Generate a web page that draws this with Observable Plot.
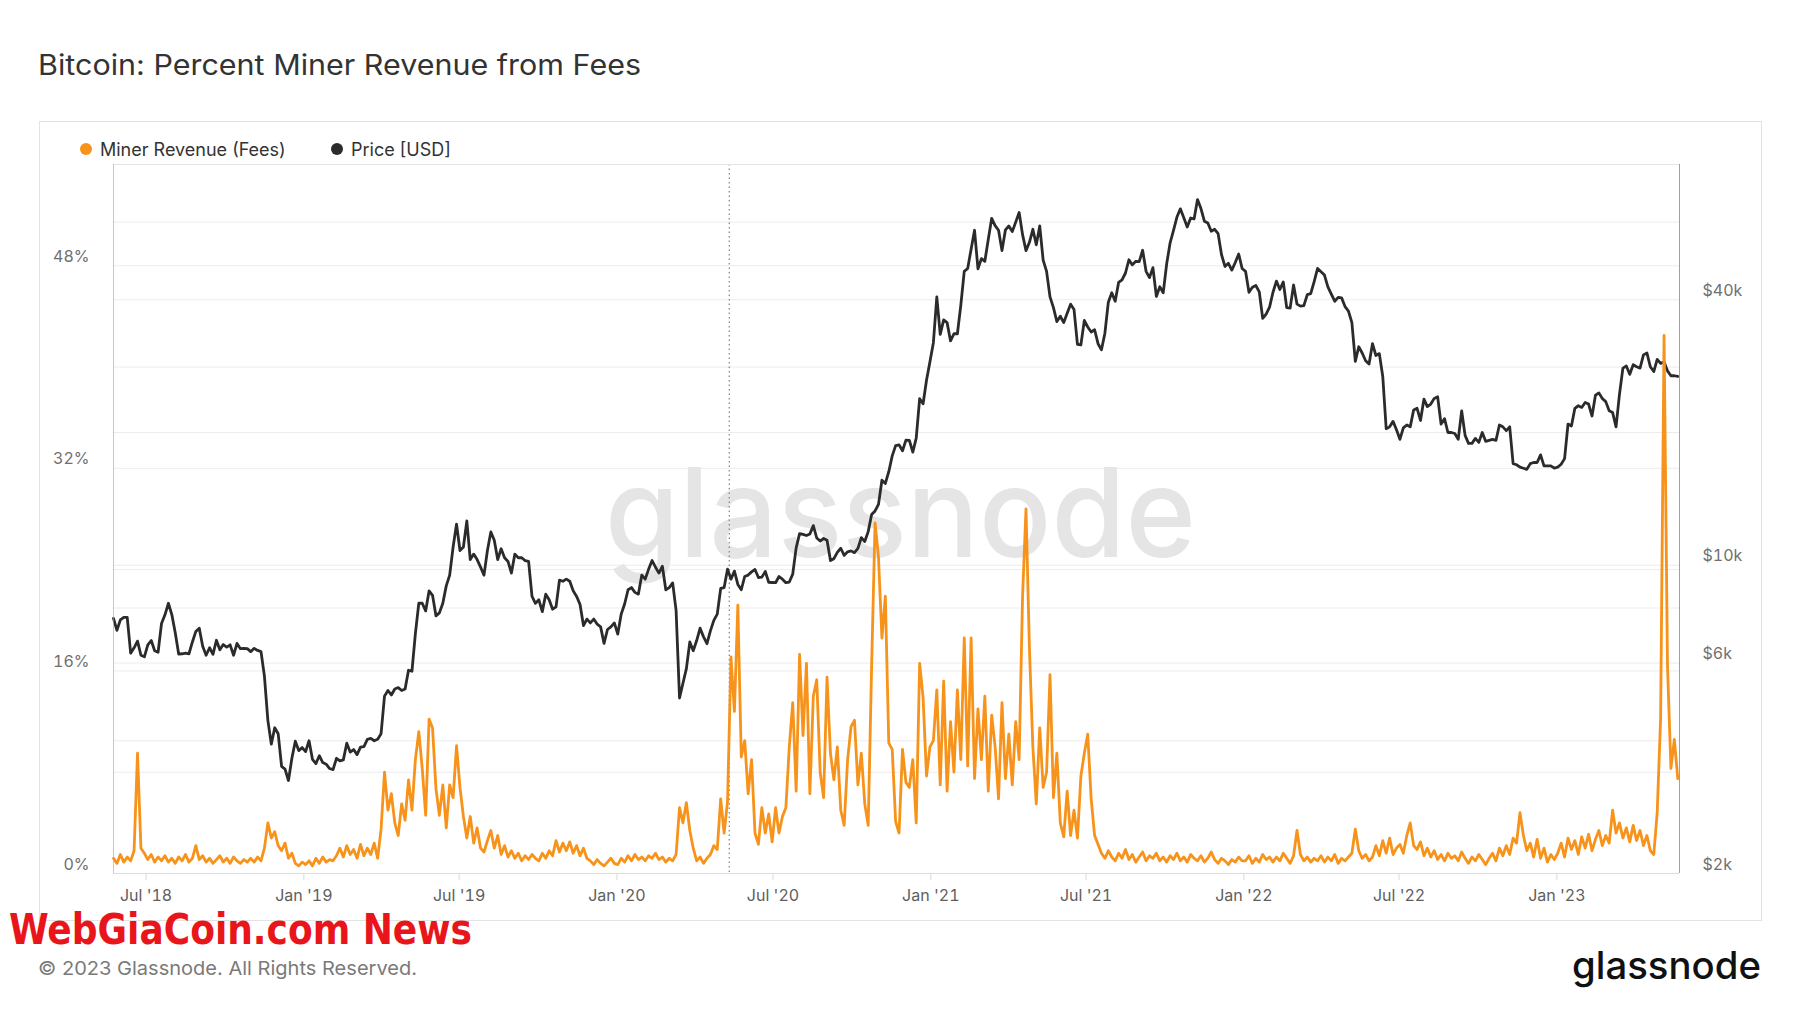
<!DOCTYPE html>
<html><head><meta charset="utf-8">
<script src="https://cdn.jsdelivr.net/npm/d3@7"></script>
<script src="https://cdn.jsdelivr.net/npm/@observablehq/plot@0.6"></script>
<style>
html,body{margin:0;padding:0;background:#fff;}
#page{position:relative;width:1800px;height:1013px;overflow:hidden;background:#fff;font-family:Inter,"Noto Sans",sans-serif;}
#overlay{position:absolute;left:0;top:0;}
#chart{position:absolute;left:39px;top:121px;}
</style></head>
<body><div id="page"><svg id="overlay" width="1800" height="1013"></svg><div id="chart"></div></div>
<script>
// ---- texts ----
const titleText = "Bitcoin: Percent Miner Revenue from Fees";
const seriesNames = ["Miner Revenue (Fees)", "Price [USD]"];
const footerText = "© 2023 Glassnode. All Rights Reserved.";
const logoText = "glassnode";
const stampText = "WebGiaCoin.com News";

// ---- axes ----
const xDomain = [new Date("2018-05-24"), new Date("2023-05-24")];
const xTicks = ["2018-07-01","2019-01-01","2019-07-01","2020-01-01","2020-07-01","2021-01-01","2021-07-01","2022-01-01","2022-07-01","2023-01-01"];
const feeTicks = [0, 16, 32, 48];
const feeGrid = [8, 16, 24, 32, 40, 48];
const priceTicks = [2000, 6000, 10000, 40000];
const priceGrid = [4000, 6000, 8000, 10000, 20000, 40000, 60000];
const halvingDate = ["2020-05-11"];

// ---- data: one value every 4 days from each start date ----
const start2018 = "2018-05-24";
const price2018 = [7580,7120, 7520,7620,7620,6320,6500,6730,6250,6200, 6600,6750,6400,6350,7380,7720,8200,7730, 7030,6290,6300,6320,6300,6700,7080, 7200,6550,6250,6500,6280,6760,6430,6610, 6520,6600,6250,6650,6470,6480,6470,6370, 6480,6410,6370,5600,4450,3930,4280, 4150,3500,3450,3250,3650,3990,3800,3860];
const fee2018 = [1.2,0.8, 1.5,0.9,1.3,1.0,1.8,9.5,2.0,1.6, 1.1,1.5,0.9,1.3,1.0,1.4,0.9,1.2, 0.8,1.3,1.0,1.5,0.9,1.2,2.2, 1.1,1.4,0.9,1.2,0.8,1.1,1.4,0.9, 1.2,0.8,1.3,1.0,0.8,1.1,0.9,1.2, 0.9,1.3,1.0,2.0,4.0,2.8,3.3, 2.2,1.8,2.4,1.2,1.6,0.8,0.6,0.9];

const start2019 = "2019-01-03";
const price2019 = [3780,4000,3630,3550,3700,3570,3540,3460, 3440,3650,3600,3620,3950,3770,3820, 3720,3870,3880,4030,4050,4000,4030, 4150,5050,5200,5080,5240,5280,5200,5240, 5780,5750,7000,8200,8200,7880,8750,8550, 7680,7800,8200,8980,9500,11000,12400, 10800,11000,12600,10300,10600,10300,9900,9500, 10800,11900,11400,10300,10900,10400,10200,9600, 10600,10400,10400,10250,10200,8500,8200, 8350,7850,8600,8350,7950,8050,9250,9200, 9300,9200,8750,8500,8150,7300,7550, 7400,7550,7350,7250,6650,7150,7250,7400];
const fee2019 = [0.7,1.0,0.6,1.2,0.8,1.3,0.9,1.1, 1.0,1.4,2.0,1.3,2.2,1.5,1.9, 1.2,2.3,1.4,2.0,1.5,2.4,1.2, 3.5,8.0,5.0,6.3,4.0,3.0,5.5,4.2, 7.4,5.0,9.0,11.2,8.3,4.6,12.2,11.5, 6.7,4.6,7.0,3.6,7.0,6.0,10.1, 6.8,4.5,2.8,4.5,2.4,3.6,2.0,1.7, 2.6,3.4,2.0,3.0,1.5,2.2,1.3,1.8, 1.2,1.6,1.0,1.4,1.1,1.5,1.2, 1.0,1.6,1.2,1.8,1.4,2.6,1.7,2.4, 1.8,2.5,1.6,2.2,1.4,2.0,1.2, 1.0,0.7,1.1,0.8,0.6,0.9,1.2,0.8];

const start2020 = "2020-01-02";
const price2020 = [6980,7750,8170,8800,8900,8680,8600,9500, 9300,9800,10250,9900,9600,9950,8800, 8900,9120,7900,5000,5400,5830,6700,6400, 6750,7200,6880,6640,7100,7500,7750, 8860,8900,9800,9300,9700,9050,8800,9430, 9500,9660,9780,9380,9400,9680,9150,9140, 9130,9430,9300,9130,9160,9550,10950, 11800,11750,11680,11770,12300,11530,11350,11500, 11400,10250,10350,10700,10930,10530,10730,10780, 10680,10920,11550,11320,11920,13030,13280, 13740,15590,15330,16300,17700,18680,18750,18180, 19220,19190,18060,19420,23860,23240,26270,28950];
const fee2020 = [0.7,1.2,0.9,1.4,1.0,1.5,1.1,1.3, 1.0,1.4,1.2,1.6,1.1,1.3,0.9, 1.2,1.0,1.5,5.2,4.0,5.6,3.4,2.0, 1.0,1.3,0.8,1.2,1.5,2.2,1.9, 5.9,3.2,5.7,17.1,12.8,21.2,9.2,10.5, 6.3,9.0,3.2,2.3,5.2,3.2,4.7,2.5, 5.2,3.2,4.5,5.2,10.0,13.5,6.5, 17.3,10.9,16.6,6.3,14.0,15.3,8.0,6.0, 15.5,9.5,7.4,10.0,5.0,3.8,9.0,11.6, 12.1,7.0,9.5,5.5,3.8,16.4,27.7, 25.0,18.6,21.9,10.3,9.8,4.1,3.2,9.8, 7.2,6.8,9.0,4.0,16.6,13.9,7.7,10.0];

const start2021 = "2021-01-04";
const price2021 = [31970,40580,33400,36000,35500,32260,33500, 33500,38900,46400,47100,52100,57500,47000, 49600,48900,54800,61200,58900,57500,51700,57600, 58800,57100,60000,63100,56200,51700,54000,57800, 53300,58800,49200,46400,40600,38400,35700, 36700,35500,37300,39100,38000,31700,31600,35900, 34700,33800,34200,31800,30800,33600,39500,41500, 39700,43800,44400,46000,49300,48000,48900, 48800,51800,46400,44900,47300,40700,42800,41500, 48200,53800,57500,61600,64300,61400,58500,61300, 61000,67500,64400,60300,59700,57200,57800, 56500,50600,47600,48400,46700,48600,50800,47100];
const fee2021 = [10.5,14.5,7.0,15.2,6.5,12.0,8.0, 14.5,9.0,18.6,8.5,18.6,7.5,13.0, 9.0,14.0,6.5,12.5,10.0,5.9,13.5,7.5, 11.0,7.0,12.0,9.0,21.9,28.8,17.8,10.0, 5.5,11.5,6.8,8.0,15.7,6.0,9.5, 4.0,2.9,6.5,3.0,5.0,2.8,7.7,9.5, 11.0,5.9,3.0,2.3,1.6,1.2,1.8,1.3, 1.0,1.6,1.2,1.9,1.1,1.5,0.9, 1.3,1.7,1.0,1.4,1.2,1.6,1.0,1.3, 0.9,1.4,1.1,1.6,1.0,1.3,0.9,1.5, 1.2,1.0,1.4,0.9,1.2,1.7,1.1, 0.8,1.2,1.0,0.7,1.1,0.9,1.3,1.0];

const start2022 = "2022-01-03";
const price2022 = [46400,41600,42700,43100,41700,36300,37100,38500, 41600,44100,42200,43900,38400,38300,43200, 39100,38700,38800,41100,41300,44000,47100, 46300,45500,42800,41200,39700,40500,40400,38600, 37700,35500,29000,31300,30300,29100,28600,31800, 29900,30200,26800,20400,20600,21200,20300, 19300,20500,20800,20600,22500,22700,21300,23800, 22900,23200,23900,24100,20900,21500,20000,20000, 19900,19300,22400,19700,18900,18900,19400, 19000,20000,19100,19200,19300,19200,20800,20600, 20200,20600,17000,16900,16700,16600,16500, 17000,17100,17100,17800,16800,16800,16800,16600];
const fee2022 = [1.0,1.4,0.8,1.2,0.9,1.5,1.1,1.3, 0.9,1.3,1.0,1.6,1.2,0.8,1.4, 3.4,1.5,1.0,1.3,0.9,1.2,1.0, 1.4,0.9,1.3,1.0,1.5,0.8,1.2,1.0, 1.3,1.6,3.5,1.8,1.2,1.5,1.0,1.3, 2.2,1.4,2.6,1.6,2.8,1.5,2.0, 2.3,1.6,3.0,4.0,2.2,1.9,2.5,1.4, 2.0,1.3,1.8,1.1,1.5,1.0,1.6,1.2, 1.4,1.0,1.7,1.2,0.8,1.3,1.0, 1.5,1.1,0.7,1.2,1.6,1.0,2.0,1.4, 2.2,1.5,2.8,2.4,4.8,3.0,1.8, 2.4,1.3,2.7,1.2,2.0,0.9,1.5,1.1];

const start2023 = "2023-01-02";
const price2023 = [16700,16950,17450,20900,20700,22700,23000,22800, 23400,23200,21800,24300,24600,23900,23500, 22400,22200,20600,24400,28000,28300,27100,28500, 28200,28000,30000,30300,28200,27500,29300, 28700,28900,27600,26900,26900,26800];
const fee2023 = [1.6,2.4,1.3,2.8,1.9,2.6,1.5,2.9, 2.0,3.1,1.8,2.7,3.4,2.2,3.0, 2.4,5.0,3.2,4.0,2.8,3.6,2.5,3.8, 2.6,3.4,2.2,3.0,1.8,1.5,4.8, 12.3,42.5,16.4,8.3,10.6,7.5];

// ---- build table ----
const segments = [
  [start2018, price2018, fee2018], [start2019, price2019, fee2019], [start2020, price2020, fee2020],
  [start2021, price2021, fee2021], [start2022, price2022, fee2022], [start2023, price2023, fee2023]
];
const rows = segments.flatMap(([s, prices, fees]) =>
  prices.map((p, i) => ({date: d3.utcDay.offset(new Date(s), 4 * i), price: p, fee: fees[i]})));

// price (log, right axis) mapped into the percent axis space
const priceToY = d3.scaleLog().domain([2000, 81060]).range([0, 56]);

const ORANGE = "#f7931a", DARK = "#2b2b2b";

const chart = Plot.plot({
  width: 1723, height: 800,
  marginLeft: 74, marginRight: 83, marginTop: 43, marginBottom: 48,
  style: {fontFamily: "Inter, sans-serif", fontSize: "16px", color: "#707070", background: "transparent", overflow: "visible"},
  x: {type: "utc", domain: xDomain},
  y: {domain: [0, 56]},
  marks: [
    Plot.gridY(feeGrid, {stroke: "#ececec", strokeOpacity: 1}),
    Plot.gridY(priceGrid.map(d => priceToY(d)), {stroke: "#ececec", strokeOpacity: 1}),
    Plot.text([logoText], {text: d => d, frameAnchor: "middle", dx: 4, dy: -2, fontSize: 124, fontWeight: 500, fill: "#e5e5e5", fontFamily: "Inter, sans-serif"}),
    Plot.ruleX(halvingDate.map(d => new Date(d)), {stroke: "#808080", strokeDasharray: "1.5,3", strokeWidth: 1.2}),
    Plot.ruleY([56], {stroke: "#e4e4e4"}),
    Plot.ruleY([0], {stroke: "#dcdcdc"}),
    Plot.lineY(rows, {x: "date", y: d => priceToY(d.price), stroke: DARK, strokeWidth: 2.8}),
    Plot.lineY(rows, {x: "date", y: "fee", stroke: ORANGE, strokeWidth: 2.8}),
    Plot.ruleX([xDomain[0]], {stroke: ORANGE, strokeOpacity: 0.6}),
    Plot.ruleX([xDomain[1]], {stroke: "#a0a0a0"}),
    Plot.axisY(feeTicks, {anchor: "left", tickSize: 0, tickPadding: 24, dy: -9, tickFormat: d => d + "%", label: null}),
    Plot.axisY(priceTicks.map(d => priceToY(d)), {anchor: "right", tickSize: 0, tickPadding: 23, dy: -9,
      tickFormat: d => "$" + Math.round(priceToY.invert(d) / 1000) + "k", label: null}),
    Plot.axisX(xTicks.map(d => new Date(d)), {tickSize: 7, tickPadding: 9, tickFormat: d3.utcFormat("%b '%y"),
      stroke: "#dadada", fill: "#5e5e5e", label: null})
  ]
});
document.getElementById("chart").appendChild(chart);
chart.querySelectorAll("text").forEach(t => {
  if (t.textContent === logoText) { t.setAttribute("textLength", 591); t.setAttribute("lengthAdjust", "spacingAndGlyphs"); }
});

// ---- overlay: title, legend, box, footer ----
const ov = d3.select("#overlay").attr("font-family", "Inter, sans-serif");
ov.append("rect").attr("x", 39.5).attr("y", 121.5).attr("width", 1722).attr("height", 799)
  .attr("fill", "none").attr("stroke", "#e3e3e3");
ov.append("text").attr("x", 38).attr("y", 75).attr("font-size", 28).attr("font-weight", 400).attr("fill", "#333")
  .attr("textLength", 603).attr("lengthAdjust", "spacingAndGlyphs").text(titleText);
const legendX = [86, 337], legendColors = [ORANGE, DARK];
seriesNames.forEach((n, i) => {
  ov.append("circle").attr("cx", legendX[i]).attr("cy", 149).attr("r", 6).attr("fill", legendColors[i]);
  ov.append("text").attr("x", legendX[i] + 14).attr("y", 156).attr("font-size", 18).attr("fill", "#333").text(n);
});
ov.append("text").attr("x", 9).attr("y", 944).attr("font-size", 42).attr("font-weight", "bold")
  .attr("font-family", "'DejaVu Sans Condensed', 'Liberation Sans Narrow', sans-serif")
  .attr("fill", "#e8151b").attr("textLength", 463).attr("lengthAdjust", "spacingAndGlyphs").text(stampText);
ov.append("text").attr("x", 38).attr("y", 975).attr("font-size", 19).attr("fill", "#7a7a7a")
  .attr("textLength", 379).attr("lengthAdjust", "spacingAndGlyphs").text(footerText);
ov.append("text").attr("x", 1572).attr("y", 979).attr("font-size", 38).attr("font-weight", 500).attr("fill", "#111")
  .attr("textLength", 189).attr("lengthAdjust", "spacingAndGlyphs").text(logoText);
</script>
</body></html>
